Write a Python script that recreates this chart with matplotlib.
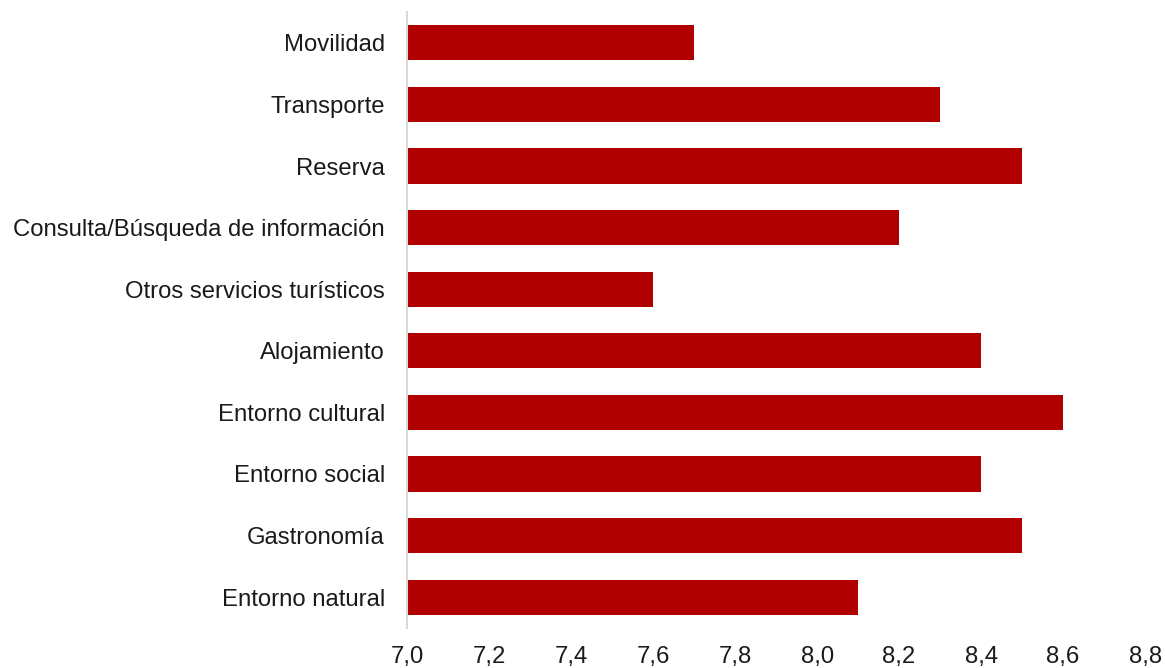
import matplotlib.pyplot as plt
import numpy as np

plt.rcParams['font.family'] = ['Liberation Sans', 'DejaVu Sans']

categorias = ['Movilidad', 'Transporte', 'Reserva', 'Consulta/Búsqueda de información',
              'Otros servicios turísticos', 'Alojamiento', 'Entorno cultural',
              'Entorno social', 'Gastronomía', 'Entorno natural']
valores = [7.7, 8.3, 8.5, 8.2, 7.6, 8.4, 8.6, 8.4, 8.5, 8.1]
xticks = [7.0, 7.2, 7.4, 7.6, 7.8, 8.0, 8.2, 8.4, 8.6, 8.8]
xtick_labels = ['7,0', '7,2', '7,4', '7,6', '7,8', '8,0', '8,2', '8,4', '8,6', '8,8']

f = plt.figure(figsize=[11.65, 6.68], dpi=100)
ax = f.add_axes([0.3494, 0.0599, 0.6335, 0.9221])

y = np.arange(len(categorias))
ax.barh(y, np.array(valores) - 7.0, left=7.0, height=0.57, color='#b00000')

ax.set_ylim(len(categorias) - 0.5, -0.5)
ax.set_xlim(7.0, 8.8)
ax.set_yticks(y)
ax.set_yticklabels(categorias)
ax.set_xticks(xticks)
ax.set_xticklabels(xtick_labels)

for s in ['top', 'right', 'bottom']:
    ax.spines[s].set_visible(False)
ax.spines['left'].set_color('#d9d9d9')
ax.spines['left'].set_linewidth(1.5)

ax.tick_params(axis='both', length=0, labelsize=17.2, colors='#1a1a1a')
ax.tick_params(axis='y', pad=16)
ax.tick_params(axis='x', pad=13)

plt.savefig('out.png', dpi=100)
